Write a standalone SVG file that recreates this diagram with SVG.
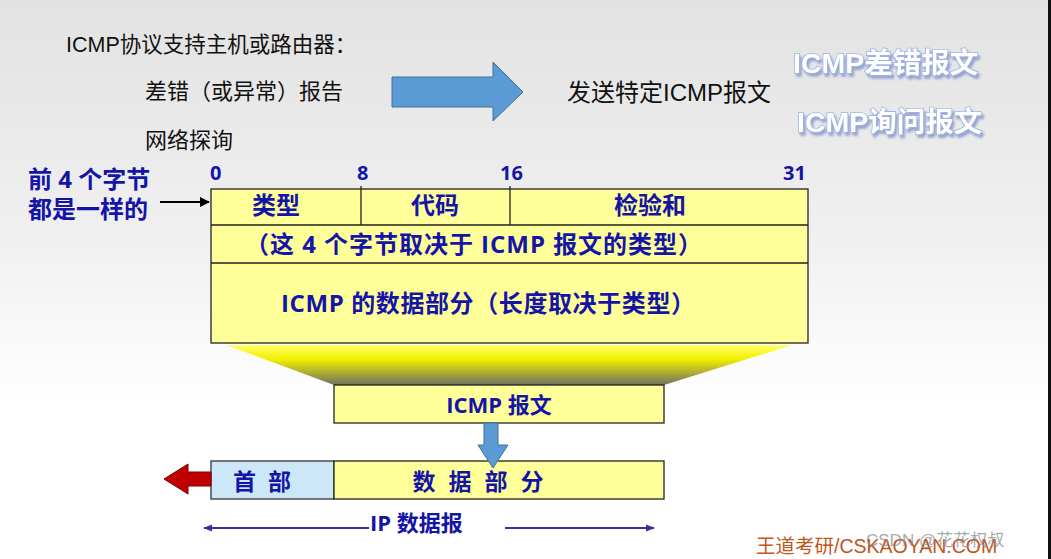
<svg xmlns="http://www.w3.org/2000/svg" width="1051" height="559" viewBox="0 0 1051 559">
<defs>
<linearGradient id="bg" x1="0" y1="0" x2="0" y2="1">
<stop offset="0" stop-color="#e2e2e2"/>
<stop offset="0.45" stop-color="#f1f1f1"/>
<stop offset="0.72" stop-color="#ffffff"/>
<stop offset="1" stop-color="#ffffff"/>
</linearGradient>
<linearGradient id="trap" x1="0" y1="0" x2="0" y2="1">
<stop offset="0" stop-color="#ffff66"/>
<stop offset="0.35" stop-color="#f2f000"/>
<stop offset="1" stop-color="#707060"/>
</linearGradient>
<filter id="sh" x="-10%" y="-30%" width="130%" height="170%">
<feGaussianBlur in="SourceAlpha" stdDeviation="1.2"/>
<feOffset dx="2" dy="2.5" result="o"/>
<feFlood flood-color="#7f8fc8" flood-opacity="0.75"/>
<feComposite in2="o" operator="in"/>
<feMerge><feMergeNode/><feMergeNode in="SourceGraphic"/></feMerge>
</filter>
<marker id="ah" viewBox="0 0 10 10" refX="9" refY="5" markerWidth="4" markerHeight="4" orient="auto-start-reverse">
<path d="M0,1 L10,5 L0,9 z" fill="#333399"/>
</marker>
<marker id="ak" viewBox="0 0 10 10" refX="9" refY="5" markerWidth="10" markerHeight="10" markerUnits="userSpaceOnUse" orient="auto">
<path d="M0,0 L10,5 L0,10 z" fill="#000"/>
</marker>
<style>
.t{font-family:"Liberation Sans","Noto Sans CJK SC",sans-serif;fill:#111}
.b{font-family:"Open Sans","Noto Sans CJK SC",sans-serif;font-weight:bold;fill:#1414a8}
.fancy{font-family:"Liberation Sans","Noto Sans CJK SC",sans-serif;font-weight:bold;font-size:28.5px;fill:#ffffff;stroke:#9db3e8;stroke-width:1.6;paint-order:stroke}
.box{fill:#ffff99;stroke:#222;stroke-width:1.3}
.ln{stroke:#222;stroke-width:1.3;fill:none}
.blue{fill:#5b9bd5;stroke:#41719c;stroke-width:1}
</style>
</defs>
<rect x="0" y="0" width="1051" height="559" fill="url(#bg)"/>
<rect x="1048" y="0" width="3" height="559" fill="#111"/>

<g id="intro">
<text class="t" x="66" y="52" font-size="21.5">ICMP协议支持主机或路由器：</text>
<text class="t" x="145" y="99" font-size="22">差错（或异常）报告</text>
<text class="t" x="145" y="148" font-size="22">网络探询</text>
<text class="t" x="567" y="101" font-size="24">发送特定ICMP报文</text>
</g>
<g id="big-arrow">
<path class="blue" d="M392,77 L493,77 L493,62 L523,92 L493,121 L493,107 L392,107 Z"/>
</g>
<g id="fancy-labels" filter="url(#sh)">
<text class="fancy" x="793" y="73">ICMP差错报文</text>
<text class="fancy" x="797" y="132">ICMP询问报文</text>
</g>

<g id="side-note">
<text class="b" x="28" y="188" font-size="24">前 4 个字节</text>
<text class="b" x="28" y="218" font-size="24">都是一样的</text>
</g>

<g id="bit-numbers">
<text class="b" x="210" y="180" font-size="20">0</text>
<text class="b" x="357" y="180" font-size="20">8</text>
<text class="b" x="500" y="180" font-size="20">16</text>
<text class="b" x="783" y="180" font-size="20">31</text>
</g>

<g id="icmp-format">
<rect class="box" x="211" y="189" width="597" height="154"/>
<line class="ln" x1="211" y1="225" x2="808" y2="225"/>
<line class="ln" x1="211" y1="263" x2="808" y2="263"/>
<line class="ln" x1="361" y1="186" x2="361" y2="225"/>
<line class="ln" x1="510" y1="186" x2="510" y2="225"/>
<text class="b" x="276" y="214" font-size="24" text-anchor="middle">类型</text>
<text class="b" x="435" y="214" font-size="24" text-anchor="middle">代码</text>
<text class="b" x="650" y="214" font-size="24" text-anchor="middle">检验和</text>
<text class="b" x="245" y="253" font-size="24" textLength="457" lengthAdjust="spacing">（这 4 个字节取决于 ICMP 报文的类型）</text>
<text class="b" x="281" y="312" font-size="24" textLength="414" lengthAdjust="spacing">ICMP 的数据部分（长度取决于类型）</text>
</g>

<g id="funnel">
<path d="M226,345 L792,345 L664,385 L334,385 Z" fill="url(#trap)"/>
</g>

<g id="icmp-msg">
<rect class="box" x="334" y="385" width="330" height="38"/>
<text class="b" x="499" y="413" font-size="22" text-anchor="middle">ICMP 报文</text>
</g>

<g id="ip-header">
<rect x="211" y="461" width="123" height="38" fill="#cce8f8" stroke="#333" stroke-width="1.3"/>
<text class="b" x="262" y="490" font-size="23" text-anchor="middle" word-spacing="6">首 部</text>
</g>
<g id="ip-data">
<rect class="box" x="334" y="461" width="330" height="38"/>
<text class="b" x="478" y="490" font-size="23" text-anchor="middle" word-spacing="7">数 据 部 分</text>
</g>

<g id="ip-label">
<text class="b" x="370" y="531" font-size="22">IP 数据报</text>
</g>

<g id="connectors">
<line x1="160" y1="202" x2="209" y2="202" stroke="#000" stroke-width="2" marker-end="url(#ak)"/>
<path class="blue" d="M484,423 L498,423 L498,445 L508,445 L493,468 L478,445 L484,445 Z"/>
<path d="M164,479 L188,464 L188,472 L211,472 L211,486 L188,486 L188,494 Z" fill="#c00000" stroke="#7a0000" stroke-width="1"/>
<line x1="204" y1="528" x2="369" y2="528" stroke="#333399" stroke-width="2.2" marker-start="url(#ah)"/>
<line x1="505" y1="528" x2="654" y2="528" stroke="#333399" stroke-width="2.2" marker-end="url(#ah)"/>
</g>

<g id="watermarks">
<text x="756" y="553" font-size="19.5" font-family="Liberation Sans,'Noto Sans CJK SC',sans-serif" fill="#c0561c">王道考研/CSKAOYAN.COM</text>
<text x="866" y="546" font-size="17" font-family="Liberation Sans,'Noto Sans CJK SC',sans-serif" fill="#8c8c8c" fill-opacity="0.75">CSDN @花花权叔</text>
</g>
</svg>
